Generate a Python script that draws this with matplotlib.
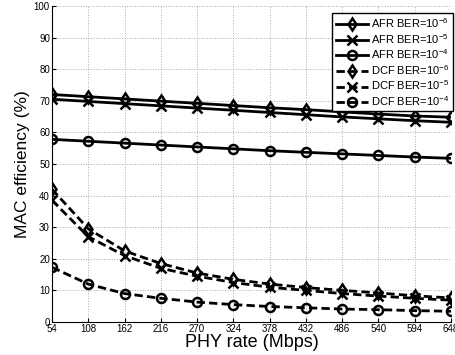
import numpy as np
import matplotlib
matplotlib.use('Agg')
import matplotlib.pyplot as plt

plt.rcParams['font.family'] = ['Liberation Sans', 'DejaVu Sans']
plt.rcParams['mathtext.fontset'] = 'custom'
plt.rcParams['mathtext.rm'] = 'Liberation Sans'
plt.rcParams['mathtext.it'] = 'Liberation Sans:italic'

# PHY rate (Mbps)
phy_rate = [54, 108, 162, 216, 270, 324, 378, 432, 486, 540, 594, 648]

# MAC efficiency (%)
afr_1e6 = [72.0, 71.3, 70.6, 69.9, 69.2, 68.5, 67.8, 67.2, 66.5, 65.8, 65.2, 64.8]
afr_1e5 = [70.5, 69.8, 69.1, 68.4, 67.7, 67.0, 66.3, 65.6, 64.9, 64.3, 63.7, 63.2]
afr_1e4 = [57.8, 57.2, 56.6, 56.0, 55.4, 54.8, 54.2, 53.7, 53.2, 52.7, 52.2, 51.8]
dcf_1e6 = [42.0, 29.5, 22.5, 18.5, 15.5, 13.5, 12.0, 10.9, 10.0, 9.2, 8.3, 7.6]
dcf_1e5 = [38.5, 27.0, 21.0, 17.0, 14.5, 12.5, 11.0, 10.0, 9.0, 8.2, 7.5, 6.9]
dcf_1e4 = [17.3, 12.0, 9.0, 7.5, 6.3, 5.5, 4.9, 4.5, 4.1, 3.9, 3.6, 3.4]

labels = ['AFR BER=10$^{-6}$', 'AFR BER=10$^{-5}$', 'AFR BER=10$^{-4}$',
          'DCF BER=10$^{-6}$', 'DCF BER=10$^{-5}$', 'DCF BER=10$^{-4}$']

W, H = 456, 355
fig = plt.figure(figsize=(W / 100, H / 100), dpi=100)
# axes box in pixels: left 52, right 451, top 6, bottom 322
ax = fig.add_axes([52 / W, (H - 322) / H, (451 - 52) / W, (322 - 6) / H])

series = [afr_1e6, afr_1e5, afr_1e4, dcf_1e6, dcf_1e5, dcf_1e4]
markers = ['d', 'x', 'o', 'd', 'x', 'o']
styles = ['-', '-', '-', '--', '--', '--']

for y, m, ls, lab in zip(series, markers, styles, labels):
    ax.plot(phy_rate, y, linestyle=ls, marker=m, color='black', linewidth=2,
            markersize=6.5, markerfacecolor='none', markeredgewidth=1.8,
            dashes=(3, 1.5) if ls == '--' else (None, None), label=lab)

ax.set_xlim(54, 648)
ax.set_ylim(0, 100)
ax.set_xticks(phy_rate)
ax.set_yticks(np.arange(0, 101, 10))
ax.tick_params(labelsize=7, direction='in', length=3, pad=1.5)
ax.grid(True, linestyle=':', color='#aaaaaa', linewidth=0.7)
ax.spines['top'].set_visible(False)
ax.spines['right'].set_visible(False)

ax.set_xlabel('PHY rate (Mbps)', fontsize=13, labelpad=0)
ax.set_ylabel('MAC efficiency (%)', fontsize=12.5, labelpad=3)

leg = ax.legend(loc='upper right', bbox_to_anchor=(453 / W, 1 - 13 / H),
                bbox_transform=fig.transFigure, borderaxespad=0,
                fontsize=8, fancybox=False, framealpha=1,
                edgecolor='black', handlelength=2.9, borderpad=0.3,
                labelspacing=0.16, handletextpad=0.3)
leg.get_frame().set_linewidth(1)

fig.savefig('out.png', dpi=100)
